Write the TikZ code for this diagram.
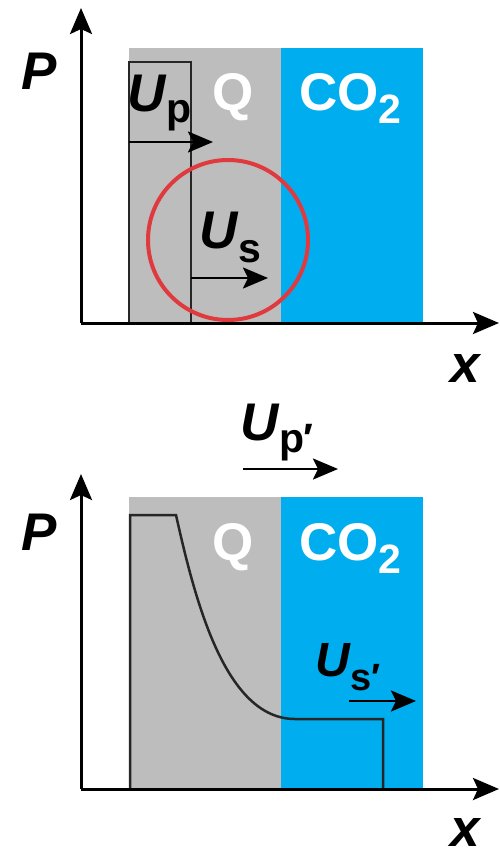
\documentclass[tikz,border=0pt]{standalone}
\usepackage{fontspec}
\setmainfont{Liberation Sans}
\usetikzlibrary{arrows.meta}
\definecolor{qgray}{HTML}{BDBDBD}
\definecolor{co2blue}{HTML}{00AEEF}
\definecolor{ringred}{HTML}{E0393E}
\newcommand{\bigfnt}{\fontsize{53}{53}\selectfont\bfseries}
\newcommand{\subfnt}{\fontsize{41}{41}\selectfont\bfseries\upshape}
\begin{document}
\begin{tikzpicture}[x=1pt,y=-1pt,
  axis/.style={line width=3pt,-{Stealth[length=26pt,width=22pt,inset=5pt]}},
  vel/.style={line width=2.5pt,-{Stealth[length=25pt,width=21pt,inset=5pt]}},
  prof/.style={line width=2.5pt,black!85},
  lbl/.style={anchor=base west,inner sep=0pt}]
\useasboundingbox (0,0) rectangle (499,853);
% ---------- top panel ----------
\fill[qgray] (129,48) rectangle (281,323);
\fill[co2blue] (281,48) rectangle (423,323);
\draw[prof] (129,323) -- (129,62) -- (191,62) -- (191,323);
\draw[ringred,line width=4pt] (228,240) circle[radius=80pt];
\coordinate (o1) at (81,323);
\coordinate (yt1) at (81,8);
\coordinate (xt1) at (499,323);
\draw[axis] (o1) -- (yt1);
\draw[axis] (o1) -- (xt1);
\coordinate (up0) at (129,142);
\coordinate (up1) at (213,142);
\draw[vel] (up0) -- (up1);
\coordinate (us0) at (191,278);
\coordinate (us1) at (268,278);
\draw[vel] (us0) -- (us1);
\node[lbl] (P1) at (21,90) {\bigfnt\itshape P};
\node[lbl] (Up) at (127,112) {\bigfnt\itshape U\kern1pt\raisebox{-11pt}{\subfnt p}};
\node[lbl,white] (Q1) at (212,111) {\bigfnt Q};
\node[lbl,white] (C1) at (299,111) {\bigfnt CO\raisebox{-13pt}{\subfnt 2}};
\node[lbl] (Us) at (199,248) {\bigfnt\itshape U\kern1pt\raisebox{-14pt}{\subfnt s}};
\node[lbl] (X1) at (450,382) {\bigfnt\itshape x};
% ---------- bottom panel ----------
\fill[qgray] (129,497) rectangle (281,789);
\fill[co2blue] (281,497) rectangle (423,789);
\draw[prof] (130,789) -- (130,515) -- (176,515)
  .. controls (195,600) and (225,719) .. (295,719) -- (383,719) -- (383,789);
\coordinate (o2) at (81,789);
\coordinate (yt2) at (81,474);
\coordinate (xt2) at (499,789);
\draw[axis] (o2) -- (yt2);
\draw[axis] (o2) -- (xt2);
\coordinate (upp0) at (243,469);
\coordinate (upp1) at (338,469);
\draw[vel] (upp0) -- (upp1);
\coordinate (usp0) at (349,701);
\coordinate (usp1) at (416,701);
\draw[vel] (usp0) -- (usp1);
\node[lbl] (P2) at (21,550) {\bigfnt\itshape P};
\node[lbl] (Upp) at (240,440) {\bigfnt\itshape U\kern1pt\raisebox{-12pt}{\subfnt p\kern-1pt\char"2032}};
\node[lbl,white] (Q2) at (212,560) {\bigfnt Q};
\node[lbl,white] (C2) at (299,560) {\bigfnt CO\raisebox{-13pt}{\subfnt 2}};
\node[lbl] (Usp) at (315,676) {\fontsize{48}{48}\selectfont\bfseries\itshape U\kern1pt\raisebox{-14pt}{\fontsize{38}{38}\selectfont\bfseries\upshape s\kern-1pt\char"2032}};
\node[lbl] (X2) at (450,846) {\bigfnt\itshape x};
\end{tikzpicture}
\end{document}
